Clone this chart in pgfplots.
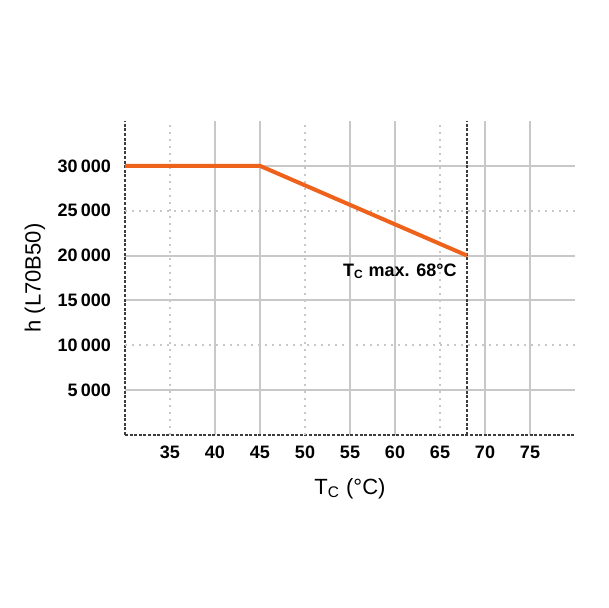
\documentclass[border=0pt]{standalone}
\usepackage{fontspec}
\setmainfont{Liberation Sans}
\usepackage{pgfplots}
\pgfplotsset{compat=1.18}
\definecolor{curve}{RGB}{238,98,28}
\definecolor{gridgray}{RGB}{200,200,200}
\definecolor{axisgray}{RGB}{60,60,60}

\begin{document}
\begin{tikzpicture}
\path[use as bounding box] (-62.5pt,-86.5pt) rectangle (241.5pt,217.5pt);
\begin{axis}[
    at={(0pt,0pt)}, anchor=south west,
    scale only axis,
    width=225pt, height=157pt,
    xmin=30, xmax=80,
    ymin=0, ymax=35000,
    axis x line*=bottom,
    axis y line*=left,
    axis line style={-, axisgray, line width=0.8pt, dash pattern=on 1.5pt off 0.8pt},
    xtick={40,45,55,60,70,75},
    extra x ticks={35,50,65},
    extra x tick style={grid=major, grid style={gridgray, line width=0.8pt, dash pattern=on 1pt off 2.5pt}},
    ytick={5000,15000,20000,30000},
    extra y ticks={10000,25000},
    extra y tick style={grid=major, grid style={gridgray, line width=0.8pt, dash pattern=on 1pt off 2.5pt}},
    grid=major,
    grid style={gridgray, line width=1pt},
    major tick length=0pt,
    tick label style={font=\fontsize{9}{10}\selectfont\bfseries},
    yticklabel style={xshift=-3.5pt},
    xticklabel style={yshift=-2pt},
    /pgf/number format/assume math mode=true,
    /pgf/number format/1000 sep={\hspace{0.18em}},
    scaled y ticks=false,
    every axis y label/.style={at={(axis description cs:0,0.5)}, xshift=-45pt, rotate=90, anchor=center, font=\fontsize{11}{12}\selectfont},
    every axis x label/.style={at={(axis description cs:0.5,0)}, yshift=-27pt, anchor=center, font=\fontsize{11}{12}\selectfont},
    ylabel={h (L70B50)},
    xlabel={T\textsubscript{C} (°C)},
    clip=false,
]
\addplot[axisgray, line width=0.9pt, dash pattern=on 1.5pt off 0.8pt] coordinates {(68,0) (68,35000)};
\addplot[curve, line width=2pt] coordinates {(30,30000) (45,30000) (68,20000)};
\node[anchor=north east, font=\fontsize{9}{10}\selectfont\bfseries, inner sep=0pt] at (axis cs:68,20000) [xshift=-5pt, yshift=-4pt] {T\textsubscript{C} max. 68°C};
\end{axis}
\end{tikzpicture}
\end{document}
